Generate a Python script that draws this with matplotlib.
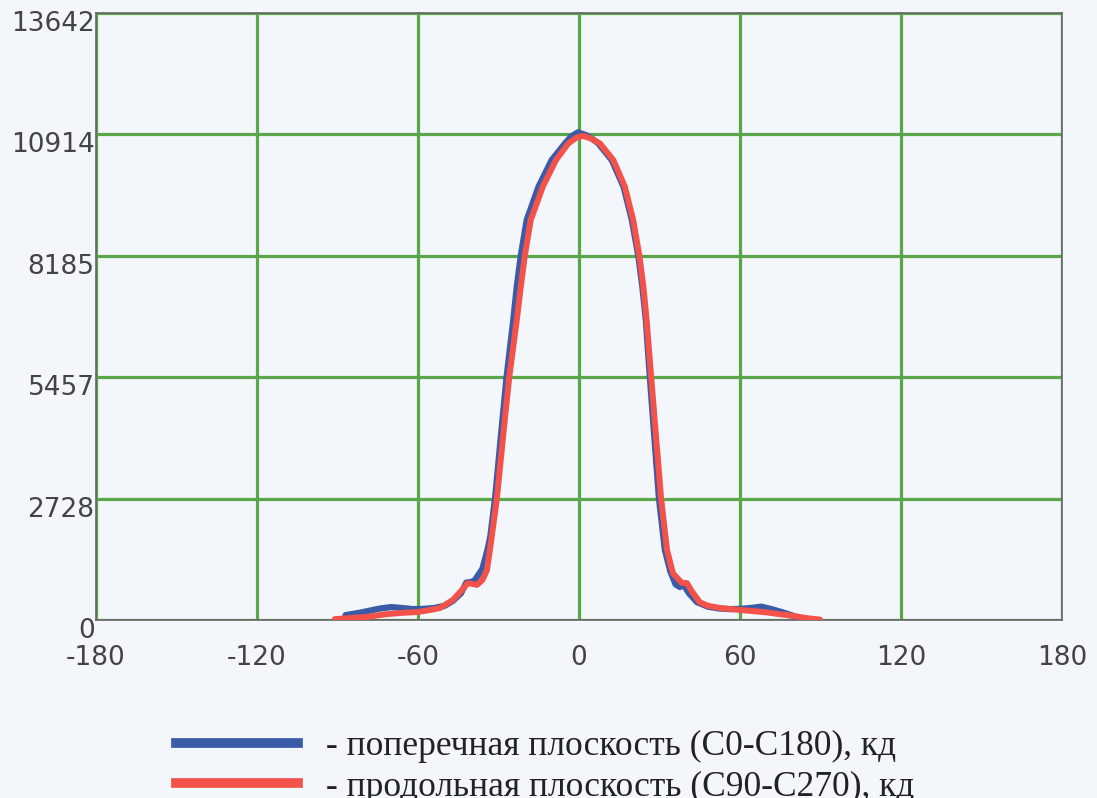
import matplotlib
matplotlib.use('Agg')
import matplotlib.pyplot as plt
import matplotlib.transforms as mtransforms
from matplotlib.lines import Line2D

# axis ticks
x_ticks = [-180, -120, -60, 0, 60, 120, 180]
y_ticks = [0, 2728, 5457, 8185, 10914, 13642]

# C0-C180 (blue), angle in degrees -> intensity, cd
blue_ang = [-87, -82, -78, -74, -70, -66, -62, -58, -54, -50, -47, -44, -42, -40, -39,
            -36, -34, -33, -31.3, -29, -27, -24.5, -23.2, -21.7, -19.5, -15.1, -10.2, -5.2,
            -3, -0.4, 2.5, 5, 7.2, 12.2, 16.6, 19.7, 22.1, 23.6, 24.9, 26.4, 29.8, 32,
            34, 36, 37.6, 39, 41, 44, 48, 52, 56, 60, 64, 68, 72, 76, 80, 82.4]
blue_val = [110, 160, 210, 260, 290, 270, 245, 250, 270, 320, 430, 600, 840, 860, 880,
            1150, 1600, 1900, 2728, 4200, 5457, 6741, 7489, 8185, 8988, 9737, 10336, 10711,
            10860, 10960, 10900, 10810, 10711, 10336, 9737, 8988, 8185, 7489, 6741, 5457, 2728, 1573,
            1100, 800, 740, 790, 600, 400, 300, 260, 245, 250, 270, 300, 240, 170, 90, 40]

# C90-C270 (red)
red_ang = [-91, -86, -79, -72, -66, -60, -55, -51.8, -47, -44, -41.4, -38, -36, -34.3,
           -33.2, -30.6, -28, -26.0, -23.2, -21.7, -20.2, -18.0, -13.5, -8.6, -4.0, -1,
           1.5, 4.5, 7.8, 12.8, 17.1, 20.2, 22.5, 24.0, 25.2, 26.9, 30.6, 32.8, 35, 38.4,
           40.2, 42, 45, 48, 52.5, 60, 65, 70, 75, 80, 85, 89.8]
red_val = [20, 40, 70, 130, 160, 180, 230, 270, 450, 650, 830, 790, 900, 1120,
           1573, 2728, 4300, 5457, 6741, 7489, 8185, 8988, 9737, 10336, 10711, 10840,
           10880, 10820, 10711, 10336, 9737, 8988, 8185, 7489, 6741, 5457, 2728, 1573, 1050, 830,
           830, 650, 400, 320, 270, 225, 200, 170, 130, 90, 40, 10]

labels = ['- поперечная плоскость (C0-C180), кд',
          '- продольная плоскость (C90-C270), кд']

bg = '#f3f6fa'
c_blue = '#3a5ba8'
c_red = '#f2524a'
c_grid = '#5aa64a'

fig = plt.figure(figsize=(10.97, 7.98), dpi=100, facecolor=bg)
ax = fig.add_axes([96/1097, 1-620/798, 966/1097, 607/798], facecolor=bg)

ax.plot(blue_ang, blue_val, color=c_blue, lw=4.5, solid_capstyle='round',
        solid_joinstyle='round', zorder=3)
ax.plot(red_ang, red_val, color=c_red, lw=4.3, solid_capstyle='round',
        solid_joinstyle='round', zorder=4)

ax.set_xlim(-180, 180)
ax.set_ylim(0, 13642)
ax.set_xticks(x_ticks)
ax.set_yticks(y_ticks)
ax.set_xticklabels([str(v) for v in x_ticks])
ax.set_yticklabels([str(v) for v in y_ticks])
ax.grid(True, color=c_grid, lw=2.3, zorder=1)
ax.set_axisbelow(True)
ax.tick_params(length=0, labelsize=19, labelcolor='#444444')
ax.tick_params(axis='x', pad=18)
ax.tick_params(axis='y', pad=1)
for s in ax.spines.values():
    s.set_color('#666666')
    s.set_linewidth(1.2)

# y labels sit a little below their grid lines
off = mtransforms.ScaledTranslation(0, -0.08, fig.dpi_scale_trans)
for lbl in ax.get_yticklabels():
    lbl.set_transform(lbl.get_transform() + off)

handles = [Line2D([], [], color=c_blue, lw=7), Line2D([], [], color=c_red, lw=7)]
fig.legend(handles, labels, loc='upper left', bbox_to_anchor=(144/1097, 1-698/798),
           frameon=False, handlelength=3.45, handletextpad=0.8, labelspacing=0.22,
           prop={'family': 'Liberation Serif', 'size': 25.5}, labelcolor='#222222')

fig.savefig('out.png', dpi=100, facecolor=bg)
